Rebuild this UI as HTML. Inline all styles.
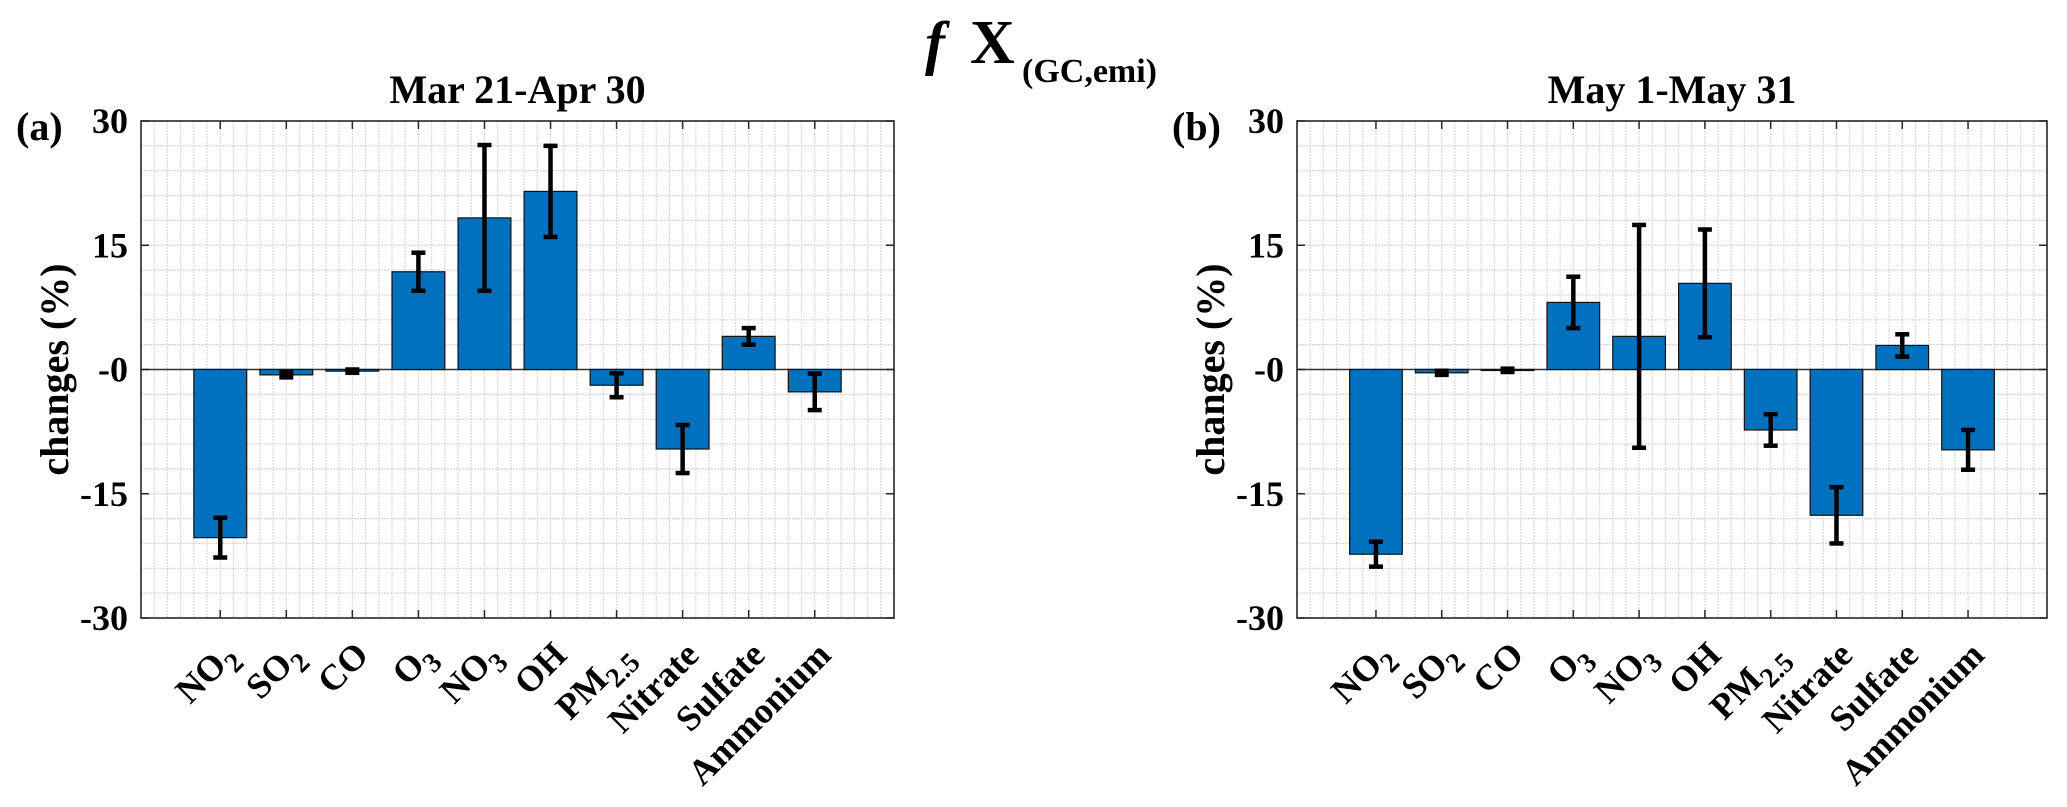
<!DOCTYPE html>
<html><head><meta charset="utf-8"><style>
html,body{margin:0;padding:0;background:#fff;}
svg{display:block;font-family:"Liberation Serif",serif;}
</style></head><body>
<svg id="fig" width="2067" height="807" viewBox="0 0 2067 807" xmlns="http://www.w3.org/2000/svg">
<g>
<text x="925" y="63" font-size="60" font-style="italic" font-weight="bold">f</text>
<text x="970" y="63" font-size="62" font-weight="bold">X</text>
<text x="1022" y="82" font-size="34" font-weight="bold">(GC,emi)</text>
</g>
</svg>
<script>
const categories = ["NO2","SO2","CO","O3","NO3","OH","PM2.5","Nitrate","Sulfate","Ammonium"];
const valuesA = [-20.3,-0.65,-0.2,11.8,18.3,21.5,-1.9,-9.6,4.0,-2.7];
const errorsA = [2.4,0.3,0.2,2.3,8.8,5.5,1.45,2.9,1.0,2.2];
const valuesB = [-22.3,-0.4,-0.1,8.1,4.0,10.4,-7.3,-17.6,2.9,-9.7];
const errorsB = [1.5,0.25,0.2,3.1,13.45,6.5,1.9,3.4,1.35,2.4];
const yTicks = [-30,-15,0,15,30];
const yTickLabels = ["-30","-15","-0","15","30"];
const panelTitles = ["Mar 21-Apr 30","May 1-May 31"];
const panelLetters = ["(a)","(b)"];

const NS="http://www.w3.org/2000/svg";
const svg=document.getElementById('fig');
function el(tag,attrs,parent){const e=document.createElementNS(NS,tag);for(const k in attrs)e.setAttribute(k,attrs[k]);(parent||svg).appendChild(e);return e;}

function labelParts(c){
  const m={"NO2":["NO","2"],"SO2":["SO","2"],"O3":["O","3"],"NO3":["NO","3"],"PM2.5":["PM","2.5"]};
  return m[c]||[c,null];
}

function panel(idx,L,R,vals,errs){
  const T=121,B=618;
  const xmin=-0.2,xmax=11.2,ymin=-30,ymax=30;
  const xs=v=>L+(v-xmin)/(xmax-xmin)*(R-L);
  const ys=v=>B-(v-ymin)/(ymax-ymin)*(B-T);
  const g=el('g',{});
  
  
  // minor grid x
  const grid=el('g',{},g);
  
  
  for(let k=0;k<=57;k++){const v=xmin+k*0.2;if(v<=xmin+0.01||v>=xmax-0.01)continue;
    el('line',{x1:xs(v),x2:xs(v),y1:T,y2:B,stroke:'#d9d9d9','stroke-width':1.2,'stroke-dasharray':'2,1'},grid);}
  for(let v=-27;v<30;v+=3){
    el('line',{x1:L,x2:R,y1:ys(v),y2:ys(v),stroke:'#d5d5d5','stroke-width':1.2,'stroke-dasharray':'2,1'},grid);}
  // zero baseline
  el('line',{x1:L,x2:R,y1:ys(0),y2:ys(0),stroke:'#333','stroke-width':1.5},g);
  // bars
  const bw=0.8*(xs(1)-xs(0));
  vals.forEach((v,i)=>{
    const cx=xs(i+1);
    const r=el('rect',{x:cx-bw/2,y:Math.min(ys(v),ys(0)),width:bw,height:Math.max(1,Math.abs(ys(v)-ys(0))),fill:'#0072BD',stroke:'#111','stroke-width':1.2},g);
    
    
  });
  vals.forEach((v,i)=>{
    const cx=xs(i+1),e=errs[i];
    const eg=el('g',{stroke:'#000','stroke-width':4.5},g);
    
    
    el('line',{x1:cx,x2:cx,y1:ys(v+e),y2:ys(v-e)},eg);
    el('line',{x1:cx-7,x2:cx+7,y1:ys(v+e),y2:ys(v+e)},eg);
    el('line',{x1:cx-7,x2:cx+7,y1:ys(v-e),y2:ys(v-e)},eg);
  });
  // axes box
  el('rect',{x:L,y:T,width:R-L,height:B-T,fill:'none',stroke:'#262626','stroke-width':1.6},g);
  categories.forEach((c,i)=>{const x=xs(i+1);
    el('line',{x1:x,x2:x,y1:B,y2:B-8,stroke:'#262626','stroke-width':1.5},g);
    el('line',{x1:x,x2:x,y1:T,y2:T+8,stroke:'#262626','stroke-width':1.5},g);});
  yTicks.forEach((t,i)=>{const y=ys(t);
    el('line',{x1:L,x2:L+8,y1:y,y2:y,stroke:'#262626','stroke-width':1.5},g);
    el('line',{x1:R,x2:R-8,y1:y,y2:y,stroke:'#262626','stroke-width':1.5},g);
    const tl=el('text',{x:L-13,y:y+12,'font-size':36,'font-weight':'bold','text-anchor':'end'},g);
    tl.textContent=yTickLabels[i];
    
    
  });
  // x tick labels
  categories.forEach((c,i)=>{const x=xs(i+1)+18,y=657;
    const t=el('text',{x:x,y:y,'font-size':36,'font-weight':'bold','text-anchor':'end',transform:`rotate(-45 ${x} ${y})`},g);
    
    
    const p=labelParts(c);
    if(p[1]){const a=el('tspan',{},t);a.textContent=p[0];const b=el('tspan',{dy:10,'font-size':28},t);b.textContent=p[1];}
    else t.textContent=c;
  });
  // title
  const tt=el('text',{x:(L+R)/2,y:103,'font-size':40,'font-weight':'bold','text-anchor':'middle'},g);
  tt.textContent=panelTitles[idx];
  
  
  const lt=el('text',{x:L-125,y:140,'font-size':40,'font-weight':'bold'},g);
  lt.textContent=panelLetters[idx];
  
  
  const yl=el('text',{x:L-73,y:(T+B)/2,'font-size':40,'font-weight':'bold','text-anchor':'middle',transform:`rotate(-90 ${L-73} ${(T+B)/2})`},g);
  yl.textContent='changes (%)';
  
  
}
panel(0,141,894,valuesA,errorsA);
panel(1,1297,2047,valuesB,errorsB);
</script>
</body></html>
